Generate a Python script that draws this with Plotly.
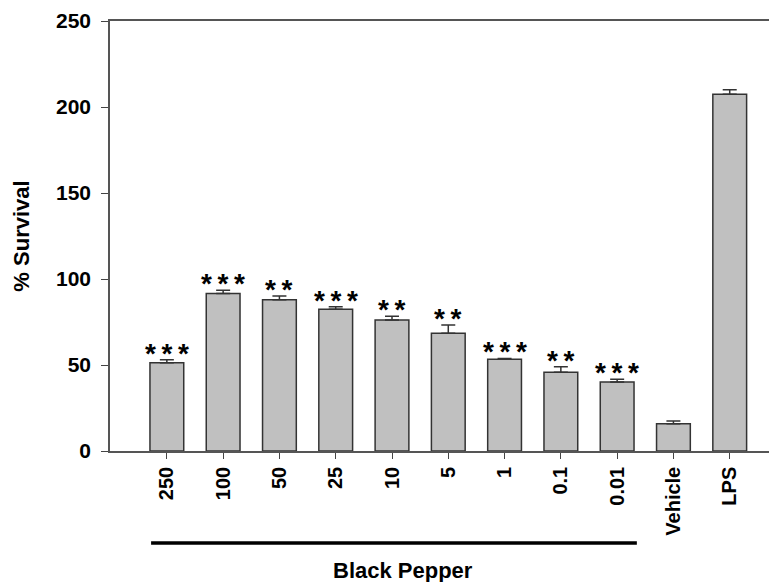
import plotly.graph_objects as go

categories = ["250", "100", "50", "25", "10", "5", "1", "0.1", "0.01", "Vehicle", "LPS"]
survival = [51.3, 91.5, 88.0, 82.4, 76.2, 68.4, 53.3, 45.8, 40.1, 15.9, 207.4]
sem = [1.8, 1.9, 2.1, 1.5, 2.1, 4.9, 0.5, 3.2, 1.6, 1.5, 2.7]
stars = ["***", "***", "**", "***", "**", "**", "***", "**", "***", "", ""]
y_ticks = [0, 50, 100, 150, 200, 250]

FONT = "Liberation Sans, Arial, sans-serif"

fig = go.Figure()
fig.add_trace(go.Bar(
    x=list(range(len(categories))),
    y=survival,
    width=0.6,
    marker=dict(color="#c0c0c0", line=dict(color="#333333", width=1.5)),
    error_y=dict(type="data", symmetric=False, array=sem,
                 arrayminus=[0] * len(sem), color="#333333",
                 thickness=1.5, width=7),
    showlegend=False,
))

for i, (v, e, s) in enumerate(zip(survival, sem, stars)):
    if s:
        fig.add_annotation(
            x=i, y=v + e, text="<b>" + "\u2009".join(s) + "</b>", showarrow=False,
            yanchor="bottom", yshift=-11,
            font=dict(family=FONT, size=28, color="black"),
        )

# group bar under Black Pepper doses
fig.add_shape(type="line", xref="x", yref="paper",
              x0=-0.28, x1=8.35, y0=-0.214, y1=-0.214,
              line=dict(color="black", width=3.5))
fig.add_annotation(x=4.2, xref="x", y=-0.277, yref="paper",
                   text="<b>Black Pepper</b>", showarrow=False,
                   yanchor="middle",
                   font=dict(family=FONT, size=22, color="black"))

# page body has an 8px margin: size the figure so the plot area lands in place
fig.update_layout(
    width=769, height=574,
    margin=dict(l=102, r=0, t=13, b=131),
    paper_bgcolor="white", plot_bgcolor="white",
    bargap=0.4,
    font=dict(family=FONT, color="black"),
)
fig.update_xaxes(
    range=[-1.01, 10.84], automargin=False,
    tickmode="array", tickvals=list(range(len(categories))),
    ticktext=["<b>%s</b>" % c for c in categories],
    tickangle=-90, ticks="outside", ticklen=6, tickcolor="#444444",
    tickfont=dict(family=FONT, size=20, color="black"),
    showline=True, linecolor="#555555", linewidth=1.5, mirror=True,
    showgrid=False, zeroline=False,
)
fig.update_yaxes(
    range=[0, 250], automargin=False,
    tickmode="array", tickvals=y_ticks,
    ticktext=["<b>%d</b>" % t for t in y_ticks],
    ticks="outside", ticklen=7, tickcolor="#444444",
    ticklabelstandoff=6,
    tickfont=dict(family=FONT, size=21, color="black"),
    showline=True, linecolor="#555555", linewidth=1.5,
    showgrid=False, zeroline=False,
    title=dict(text="<b>% Survival</b>", font=dict(family=FONT, size=22, color="black"), standoff=20),
)

fig.write_html("out.html")
